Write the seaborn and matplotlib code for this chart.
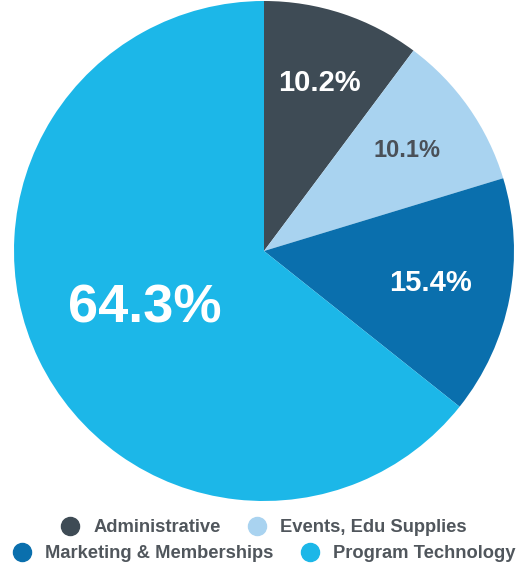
import matplotlib
matplotlib.use("Agg")
import matplotlib.pyplot as plt
import seaborn as sns
import numpy as np
from matplotlib.lines import Line2D

sns.set_theme(style="white")
plt.rcParams['font.family'] = ['Liberation Sans', 'DejaVu Sans']

categories = ["Administrative", "Events, Edu Supplies", "Marketing & Memberships", "Program Technology"]
values = [10.2, 10.1, 15.4, 64.3]
colors = ["#3e4b55", "#a9d3f0", "#0a6fad", "#1cb7e8"]
label_colors = ["white", "#4a5058", "white", "white"]
label_sizes = [21, 17, 21, 39]
label_dist = [0.71, 0.70, 0.68, 0.53]

fig = plt.figure(figsize=(5.25, 5.73), dpi=100)
ax = fig.add_axes([14/525, (573-251-250)/573, 500/525, 500/573])
wedges, _ = ax.pie(values, colors=colors, startangle=90, counterclock=False,
                   wedgeprops=dict(linewidth=0))
ax.set_aspect("equal")
ax.set_xlim(-1, 1)
ax.set_ylim(-1, 1)

for w, v, c, s, d in zip(wedges, values, label_colors, label_sizes, label_dist):
    ang = np.deg2rad((w.theta1 + w.theta2) / 2)
    ax.text(d * np.cos(ang), d * np.sin(ang), f"{v:.1f}%", color=c, fontsize=s,
            fontweight="bold", ha="center", va="center")

text_color = "#50565c"
def handle(col):
    return Line2D([], [], marker="o", linestyle="", markersize=13,
                  markerfacecolor=col, markeredgecolor=col)

rows = [[0, 1], [2, 3]]
ys = [1 - 527.5/573, 1 - 553.5/573]
for r, y in zip(rows, ys):
    leg = fig.legend([handle(colors[i]) for i in r], [categories[i] for i in r],
                     loc="center", bbox_to_anchor=(0.503, y), ncol=2, frameon=False,
                     handletextpad=0.75, columnspacing=1.5, handlelength=1.0,
                     prop=dict(size=13.2, weight="bold"), borderaxespad=0, borderpad=0)
    for t in leg.get_texts():
        t.set_color(text_color)

fig.savefig("out.png", dpi=100)
